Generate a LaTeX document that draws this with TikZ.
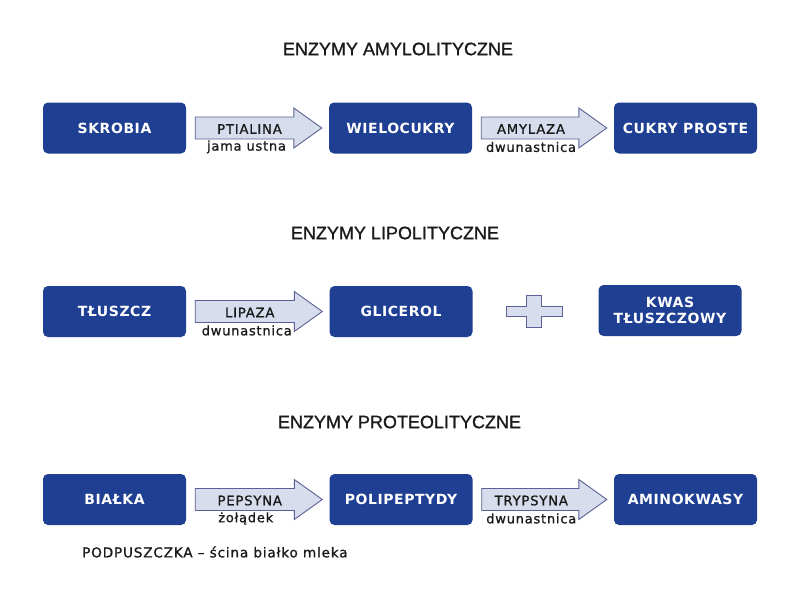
\documentclass[tikz,border=0pt]{standalone}
\usepackage{fontspec}
\setmainfont{Liberation Sans}
\newfontfamily\titlefnt[FakeBold=1]{Liberation Sans}
\newfontfamily\boxfnt[LetterSpace=4]{DejaVu Sans}
\newfontfamily\lblfnt[LetterSpace=6,FakeBold=1]{DejaVu Sans}
\usetikzlibrary{calc}
\definecolor{boxblue}{HTML}{1F3F93}
\definecolor{arrfill}{HTML}{D7DDEC}
\definecolor{arrline}{HTML}{5B6096}
\definecolor{txtdark}{HTML}{1A1A1A}
\tikzset{
  box/.style={fill=boxblue, rounded corners=5pt, minimum width=143pt, minimum height=51pt,
    text=white, align=center, inner sep=0pt, font=\boxfnt\bfseries\fontsize{14}{16}\selectfont},
  titletxt/.style={font=\titlefnt\fontsize{18}{21}\selectfont, text=txtdark, inner sep=0pt},
  blockarr/.style={draw=arrline, fill=arrfill, line width=0.9pt, line join=miter},
  lblup/.style={font=\lblfnt\fontsize{13.2}{15}\selectfont, text=txtdark, inner sep=0pt},
  lbldn/.style={font=\lblfnt\fontsize{13}{15}\selectfont, text=txtdark, fill=white, inner sep=1pt},
  notetxt/.style={font=\lblfnt\fontsize{13.6}{15}\selectfont, text=txtdark, inner sep=0pt, anchor=west},
  plusshape/.style={draw=arrline, fill=arrfill, line width=0.9pt}
}
\newcommand\blockarrow[3]{%
  \coordinate (#3s) at ($(#1.east)+(9,0)$);
  \coordinate (#3t) at ($(#2.west)+(-7,0)$);
  \draw[blockarr] ($(#3s)+(0,-11)$) -- ($(#3t)+(-28,-11)$) -- ($(#3t)+(-28,-20)$) -- (#3t)
    -- ($(#3t)+(-28,20)$) -- ($(#3t)+(-28,11)$) -- ($(#3s)+(0,11)$) -- cycle;
  \coordinate (#3m) at ($(#3s)!0.5!(#3t)+(-14,0)$);
}
\begin{document}
\begin{tikzpicture}[x=1pt,y=-1pt]
\useasboundingbox[fill=white] (0,0) rectangle (800,600);

% Row 1
\node[titletxt] (t1) at (398,49) {ENZYMY AMYLOLITYCZNE};
\node[box] (skrobia) at (114.5,128) {SKROBIA};
\node[box] (wielo) at (400.5,128) {WIELOCUKRY};
\node[box] (cukry) at (685.5,128) {CUKRY PROSTE};
\blockarrow{skrobia}{wielo}{a1}
\node[lblup] (a1u) at ($(a1m)+(5,1)$) {PTIALINA};
\node[lbldn] (a1d) at ($(a1m)+(2,19)$) {jama ustna};
\blockarrow{wielo}{cukry}{a2}
\node[lblup] (a2u) at ($(a2m)+(1,1)$) {AMYLAZA};
\node[lbldn] (a2d) at ($(a2m)+(1,19)$) {dwunastnica};

% Row 2
\node[titletxt] (t2) at (395,233) {ENZYMY LIPOLITYCZNE};
\node[box] (tluszcz) at (114.5,311.5) {TŁUSZCZ};
\node[box] (glicerol) at (401,311.5) {GLICEROL};
\node[box] (kwas) at (670,310.5) {KWAS\\TŁUSZCZOWY};
\blockarrow{tluszcz}{glicerol}{b1}
\node[lblup] (b1u) at ($(b1m)+(5,1)$) {LIPAZA};
\node[lbldn] (b1d) at ($(b1m)+(2,19)$) {dwunastnica};
\coordinate (plus) at (534,311);
\draw[plusshape] ($(plus)+(-28,-5)$) -- ($(plus)+(-7.5,-5)$) -- ($(plus)+(-7.5,-16)$)
  -- ($(plus)+(7.5,-16)$) -- ($(plus)+(7.5,-5)$) -- ($(plus)+(28,-5)$)
  -- ($(plus)+(28,5)$) -- ($(plus)+(7.5,5)$) -- ($(plus)+(7.5,16)$)
  -- ($(plus)+(-7.5,16)$) -- ($(plus)+(-7.5,5)$) -- ($(plus)+(-28,5)$) -- cycle;

% Row 3
\node[titletxt] (t3) at (399.5,422) {ENZYMY PROTEOLITYCZNE};
\node[box] (bialka) at (114.5,499.5) {BIAŁKA};
\node[box] (poli) at (401,499.5) {POLIPEPTYDY};
\node[box] (amino) at (685.5,499.5) {AMINOKWASY};
\blockarrow{bialka}{poli}{c1}
\node[lblup] (c1u) at ($(c1m)+(5,1)$) {PEPSYNA};
\node[lbldn] (c1d) at ($(c1m)+(1,19)$) {żołądek};
\blockarrow{poli}{amino}{c2}
\node[lblup] (c2u) at ($(c2m)+(1,1)$) {TRYPSYNA};
\node[lbldn] (c2d) at ($(c2m)+(1,19)$) {dwunastnica};
\node[notetxt] (note) at (82,552) {PODPUSZCZKA – ścina białko mleka};
\end{tikzpicture}
\end{document}
